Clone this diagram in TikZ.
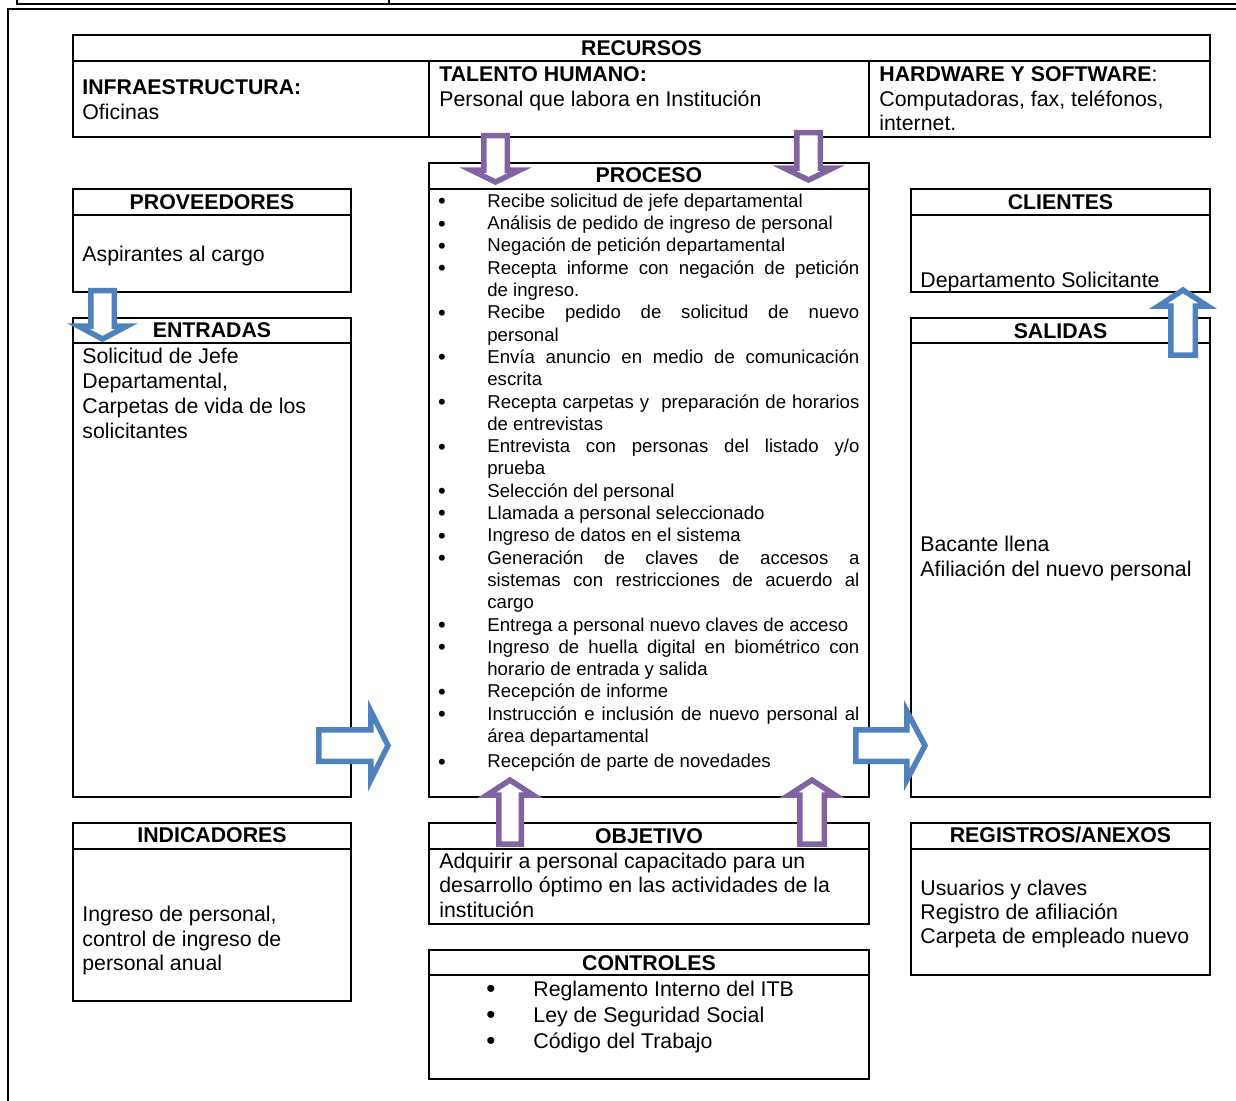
\documentclass[tikz,border=0pt]{standalone}
\usepackage{fontspec}
\setmainfont{Liberation Sans}
\usetikzlibrary{fit}
\definecolor{arrpur}{HTML}{8064A2}
\definecolor{arrblu}{HTML}{4F81BD}
\newcommand\bodyfont{\fontsize{10.65}{12.5}\selectfont}
\newcommand\procfont{\fontsize{9.3}{11.15}\selectfont}
\newcommand\titfont{\fontsize{10.65}{12.5}\selectfont\bfseries}
\newcommand\lsk[1]{\fontsize{10.65}{#1}\selectfont}
\newcommand\ml[1]{\begin{tabular}[t]{@{}l@{}}#1\end{tabular}}
\newcommand\varr[7]{\draw[blockarr=#1] (#2-#4,#3) -- (#2+#4,#3) -- (#2+#4,#5) -- (#2+#6,#5) -- (#2,#7) -- (#2-#6,#5) -- (#2-#4,#5) -- cycle;}
\newcommand\harr[7]{\draw[blockarr=#1] (#3,#2-#4) -- (#5,#2-#4) -- (#5,#2-#6) -- (#7,#2) -- (#5,#2+#6) -- (#5,#2+#4) -- (#3,#2+#4) -- cycle;}
\newcommand\pitem[3]{\node[pbul] (#1b) at (442,#2+1.4) {\textbullet}; \node[ptxt] (#1) at (487,#2) {\parbox[t]{186pt}{#3}};}
\begin{document}
\begin{tikzpicture}[x=0.5pt,y=-0.5pt,
  box/.style={draw, line width=1pt, inner sep=0pt},
  rule/.style={line width=1pt},
  frameline/.style={line width=1.1pt},
  tit/.style={anchor=base, inner sep=0pt, font=\titfont},
  txt/.style={anchor=base west, inner sep=0pt, font=\bodyfont},
  ptxt/.style={anchor=base west, inner sep=0pt, font=\procfont},
  pbul/.style={anchor=base, inner sep=0pt, font=\fontsize{11}{11}\selectfont},
  cbul/.style={anchor=base, inner sep=0pt, font=\fontsize{13}{13}\selectfont},
  blockarr/.style={draw=#1, fill=white, line width=2.75pt, line join=miter, miter limit=10}]
\useasboundingbox (0,0) rectangle (1236,1100);
% outer frame and fragment of the table above
\draw[frameline] (8,1102) -- (8,9.3) -- (1238,9.3);
\draw[frameline] (17,-2) -- (17,4.3) -- (1238,4.3);
\draw[frameline] (389,-2) -- (389,4.3);
% boxes
\node[box, fit={(73,35)(1210,137)}] (recursos) {};
\draw[rule] (73,61) -- (1210,61);
\draw[rule] (429,61) -- (429,137);
\draw[rule] (869,61) -- (869,137);
\node[box, fit={(73,189)(351,292)}] (prov) {};
\draw[rule] (73,215) -- (351,215);
\node[box, fit={(73,318)(351,797)}] (entr) {};
\draw[rule] (73,343) -- (351,343);
\node[box, fit={(429,163)(869,797)}] (proc) {};
\draw[rule] (429,189) -- (869,189);
\node[box, fit={(911,189)(1210,292)}] (cli) {};
\draw[rule] (911,215) -- (1210,215);
\node[box, fit={(911,318)(1210,797)}] (sal) {};
\draw[rule] (911,343) -- (1210,343);
\node[box, fit={(73,823)(351,1001)}] (ind) {};
\draw[rule] (73,849) -- (351,849);
\node[box, fit={(429,823)(869,924)}] (obj) {};
\draw[rule] (429,849) -- (869,849);
\node[box, fit={(429,950)(869,1079)}] (ctrl) {};
\draw[rule] (429,975) -- (869,975);
\node[box, fit={(911,823)(1210,975)}] (reg) {};
\draw[rule] (911,849) -- (1210,849);
% RECURSOS
\node[tit] (tRec) at (641.5,55) {RECURSOS};
\node[txt, font=\lsk{12.35}] (tInfra) at (82,94.3) {\ml{\textbf{INFRAESTRUCTURA:}\\Oficinas}};
\node[txt] (tTal) at (439,81.7) {\ml{\textbf{TALENTO HUMANO:}\\Personal que labora en Institución}};
\node[txt, font=\lsk{12.3}] (tHw) at (879,81.7) {\ml{\textbf{HARDWARE Y SOFTWARE}:\\Computadoras, fax, teléfonos,\\internet.}};
% left column
\node[tit] (tProv) at (212,209) {PROVEEDORES};
\node[txt] (xProv) at (82,261) {Aspirantes al cargo};
\node[tit] (tEnt) at (212,337.5) {ENTRADAS};
\node[txt] (xEnt) at (82,363.3) {\ml{Solicitud de Jefe\\Departamental,\\Carpetas de vida de los\\solicitantes}};
\node[tit] (tInd) at (212,842.7) {INDICADORES};
\node[txt, font=\lsk{12.25}] (xInd) at (82,921.7) {\ml{Ingreso de personal,\\control de ingreso de\\personal anual}};
% right column
\node[tit] (tCli) at (1060.5,209.3) {CLIENTES};
\node[txt] (xCli) at (920,287) {Departamento Solicitante};
\node[tit] (tSal) at (1060.5,338.3) {SALIDAS};
\node[txt] (xSal) at (920,551.7) {\ml{Bacante llena\\Afiliación del nuevo personal}};
\node[tit] (tReg) at (1060.5,842.7) {REGISTROS/ANEXOS};
\node[txt, font=\lsk{12.1}] (xReg) at (920,895) {\ml{Usuarios y claves\\Registro de afiliación\\Carpeta de empleado nuevo}};
% middle column
\node[tit] (tProc) at (649,182.7) {PROCESO};
\pitem{p1}{207.3}{Recibe solicitud de jefe departamental}
\pitem{p2}{229.6}{Análisis de pedido de ingreso de personal}
\pitem{p3}{251.9}{Negación de petición departamental}
\pitem{p4}{274.2}{Recepta informe con negación de petición\linebreak de ingreso.}
\pitem{p5}{318.8}{Recibe pedido de solicitud de nuevo\linebreak personal}
\pitem{p6}{363.4}{Envía anuncio en medio de comunicación\linebreak escrita}
\pitem{p7}{408.0}{Recepta carpetas y\ \ preparación de horarios\linebreak de entrevistas}
\pitem{p8}{452.6}{Entrevista con personas del listado y/o\linebreak prueba}
\pitem{p9}{497.2}{Selección del personal}
\pitem{p10}{519.5}{Llamada a personal seleccionado}
\pitem{p11}{541.8}{Ingreso de datos en el sistema}
\pitem{p12}{564.1}{Generación de claves de accesos a\linebreak sistemas con restricciones de acuerdo al\linebreak cargo}
\pitem{p13}{631.0}{Entrega a personal nuevo claves de acceso}
\pitem{p14}{653.3}{Ingreso de huella digital en biométrico con\linebreak horario de entrada y salida}
\pitem{p15}{697.9}{Recepción de informe}
\pitem{p16}{720.2}{Instrucción e inclusión de nuevo personal al\linebreak área departamental}
\pitem{p17}{767.8}{Recepción de parte de novedades}
\node[tit] (tObj) at (649,843.3) {OBJETIVO};
\node[txt, font=\lsk{12.25}] (xObj) at (439,868.3) {\ml{Adquirir a personal capacitado para un\\desarrollo óptimo en las actividades de la\\institución}};
\node[tit] (tCtrl) at (649,970.7) {CONTROLES};
\node[cbul] (c1b) at (491,997.5) {\textbullet};
\node[txt] (c1) at (533,996.7) {Reglamento Interno del ITB};
\node[cbul] (c2b) at (491,1023.5) {\textbullet};
\node[txt] (c2) at (533,1022.7) {Ley de Seguridad Social};
\node[cbul] (c3b) at (491,1049) {\textbullet};
\node[txt] (c3) at (533,1048.3) {Código del Trabajo};
% block arrows
\varr{arrpur}{495.5}{135.7}{11.75}{170}{24.5}{182}
\varr{arrpur}{808.5}{132.7}{11.75}{168}{24.5}{180}
\varr{arrblu}{102.5}{290.7}{11.75}{326}{24.4}{339}
\varr{arrblu}{1183}{355.2}{12.25}{306}{24.5}{290}
\varr{arrpur}{510}{844.2}{11.25}{795}{23}{780}
\varr{arrpur}{812}{844.2}{12.25}{795}{23}{780}
\harr{arrblu}{745.5}{318.75}{15.75}{370.75}{34.5}{388}
\harr{arrblu}{745.5}{855.75}{15.75}{906.75}{34.5}{925}
\end{tikzpicture}
\end{document}
